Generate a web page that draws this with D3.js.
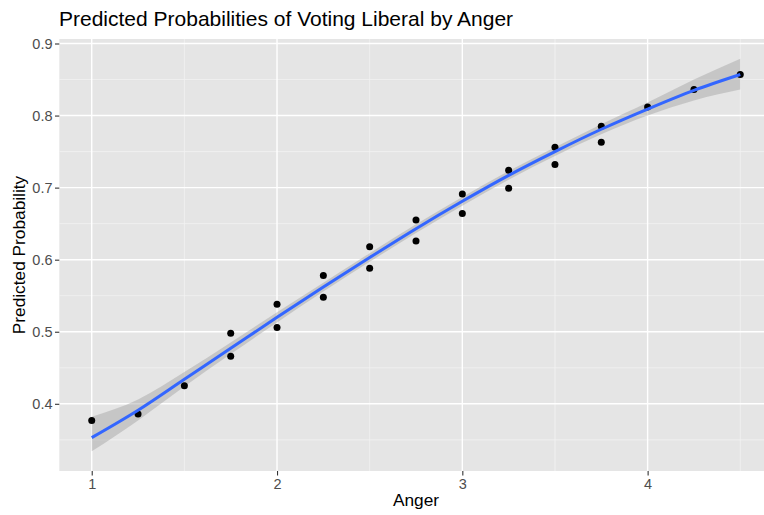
<!DOCTYPE html>
<html>
<head>
<meta charset="utf-8">
<script src="https://cdn.jsdelivr.net/npm/d3@7"></script>
<style>
  body { margin: 0; background: #fff; }
  svg { display: block; font-family: "Liberation Sans", Arial, Helvetica, sans-serif; }
</style>
</head>
<body>
<script>
/* observed points (anger, predicted probability) */
var pointX = [1, 1.25, 1.5, 1.75, 1.75, 2, 2, 2.25, 2.25, 2.5, 2.5, 2.75, 2.75,
              3, 3, 3.25, 3.25, 3.5, 3.5, 3.75, 3.75, 4, 4.25, 4.5]
var pointY = [0.377, 0.386, 0.425, 0.498, 0.466, 0.538, 0.506, 0.578, 0.548, 0.618, 0.588, 0.655, 0.626,
              0.691, 0.664, 0.724, 0.699, 0.756, 0.732, 0.785, 0.763, 0.812, 0.836, 0.857]

/* smoother and its confidence band */
var fitX  = [1, 1.25, 1.5, 1.75, 2, 2.25, 2.5, 2.75, 3, 3.25, 3.5, 3.75, 4, 4.25, 4.5]
var fitY  = [0.353, 0.391, 0.434, 0.477, 0.520, 0.562, 0.603, 0.643, 0.681, 0.717, 0.750, 0.781, 0.809, 0.835, 0.857]
var fitLo = [0.334, 0.377, 0.424, 0.469, 0.513, 0.556, 0.597, 0.637, 0.675, 0.711, 0.744, 0.774, 0.800, 0.821, 0.836]
var fitHi = [0.382, 0.406, 0.444, 0.485, 0.527, 0.568, 0.609, 0.649, 0.687, 0.723, 0.756, 0.788, 0.818, 0.850, 0.879]

var xTicks = [1, 2, 3, 4]
var xMinor = [1.5, 2.5, 3.5, 4.5]
var yTicks = [0.4, 0.5, 0.6, 0.7, 0.8, 0.9]
var yMinor = [0.35, 0.45, 0.55, 0.65, 0.75, 0.85]

var width = 764, height = 515
var panel = {left: 59.3, top: 39, right: 772.7, bottom: 471}

var svg = d3.select("body").append("svg")
    .attr("width", width)
    .attr("height", height)

/* ggplot style 5% expansion */
function expand(ext){
    var pad = (ext[1] - ext[0]) * 0.05
    return [ext[0] - pad, ext[1] + pad]
}

var xScale = d3.scaleLinear()
    .domain(expand(d3.extent(pointX.concat(fitX))))
    .range([panel.left, panel.right])

var yScale = d3.scaleLinear()
    .domain(expand([d3.min(fitLo.concat(pointY)), d3.max(fitHi.concat(pointY))]))
    .range([panel.bottom, panel.top])

svg.append("rect")
    .attr("x", panel.left)
    .attr("y", panel.top)
    .attr("width", panel.right - panel.left)
    .attr("height", panel.bottom - panel.top)
    .attr("fill", "#e5e5e5")

/*grid lines*/
var grid = svg.append("g")

grid.selectAll(".yminor").data(yMinor).enter().append("line")
    .attr("x1", panel.left).attr("x2", panel.right)
    .attr("y1", function(d){return yScale(d)})
    .attr("y2", function(d){return yScale(d)})
    .attr("stroke", "#f2f2f2").attr("stroke-width", 0.8)

grid.selectAll(".xminor").data(xMinor).enter().append("line")
    .attr("y1", panel.top).attr("y2", panel.bottom)
    .attr("x1", function(d){return xScale(d)})
    .attr("x2", function(d){return xScale(d)})
    .attr("stroke", "#f2f2f2").attr("stroke-width", 0.8)

grid.selectAll(".ymajor").data(yTicks).enter().append("line")
    .attr("x1", panel.left).attr("x2", panel.right)
    .attr("y1", function(d){return yScale(d)})
    .attr("y2", function(d){return yScale(d)})
    .attr("stroke", "#ffffff").attr("stroke-width", 1.4)

grid.selectAll(".xmajor").data(xTicks).enter().append("line")
    .attr("y1", panel.top).attr("y2", panel.bottom)
    .attr("x1", function(d){return xScale(d)})
    .attr("x2", function(d){return xScale(d)})
    .attr("stroke", "#ffffff").attr("stroke-width", 1.4)

/*band + fitted line*/
var fit = fitX.map(function(d, i){ return {x: d, y: fitY[i], lo: fitLo[i], hi: fitHi[i]} })

var area = d3.area()
    .x(function(d){return xScale(d.x)})
    .y0(function(d){return yScale(d.lo)})
    .y1(function(d){return yScale(d.hi)})
    .curve(d3.curveMonotoneX)

svg.append("path")
    .datum(fit)
    .attr("d", area)
    .attr("fill", "#999999")
    .attr("fill-opacity", 0.4)

var points = pointX.map(function(d, i){ return {x: d, y: pointY[i]} })

svg.selectAll(".dot").data(points).enter().append("circle")
    .attr("cx", function(d){return xScale(d.x)})
    .attr("cy", function(d){return yScale(d.y)})
    .attr("r", 3.5)
    .attr("fill", "#000000")

var line = d3.line()
    .x(function(d){return xScale(d.x)})
    .y(function(d){return yScale(d.y)})
    .curve(d3.curveMonotoneX)

svg.append("path")
    .datum(fit)
    .attr("d", line)
    .attr("fill", "none")
    .attr("stroke", "#3366ff")
    .attr("stroke-width", 3)

/*axes*/
var xAxis = d3.axisBottom(xScale).tickValues(xTicks).tickSize(4.5).tickPadding(3)
    .tickFormat(d3.format("d"))
var yAxis = d3.axisLeft(yScale).tickValues(yTicks).tickSize(4.3).tickPadding(2.5)
    .tickFormat(d3.format(".1f"))

var gx = svg.append("g").attr("transform", "translate(0," + panel.bottom + ")").call(xAxis)
var gy = svg.append("g").attr("transform", "translate(" + panel.left + ",0)").call(yAxis)

;[gx, gy].forEach(function(g){
    g.select(".domain").remove()
    g.selectAll(".tick line").attr("stroke", "#333333").attr("stroke-width", 1.1)
    g.selectAll(".tick text").attr("fill", "#4d4d4d").style("font-size", "14.5px")
})

svg.append("text")
    .attr("x", 59)
    .attr("y", 26)
    .style("font-size", "21px")
    .attr("fill", "#000")
    .text("Predicted Probabilities of Voting Liberal by Anger")

svg.append("text")
    .attr("x", (panel.left + panel.right) / 2)
    .attr("y", 506)
    .attr("text-anchor", "middle")
    .style("font-size", "17.3px")
    .text("Anger")

svg.append("text")
    .attr("transform", "translate(25," + ((panel.top + panel.bottom) / 2) + ") rotate(-90)")
    .attr("text-anchor", "middle")
    .style("font-size", "17.3px")
    .text("Predicted Probability")
</script>
</body>
</html>
